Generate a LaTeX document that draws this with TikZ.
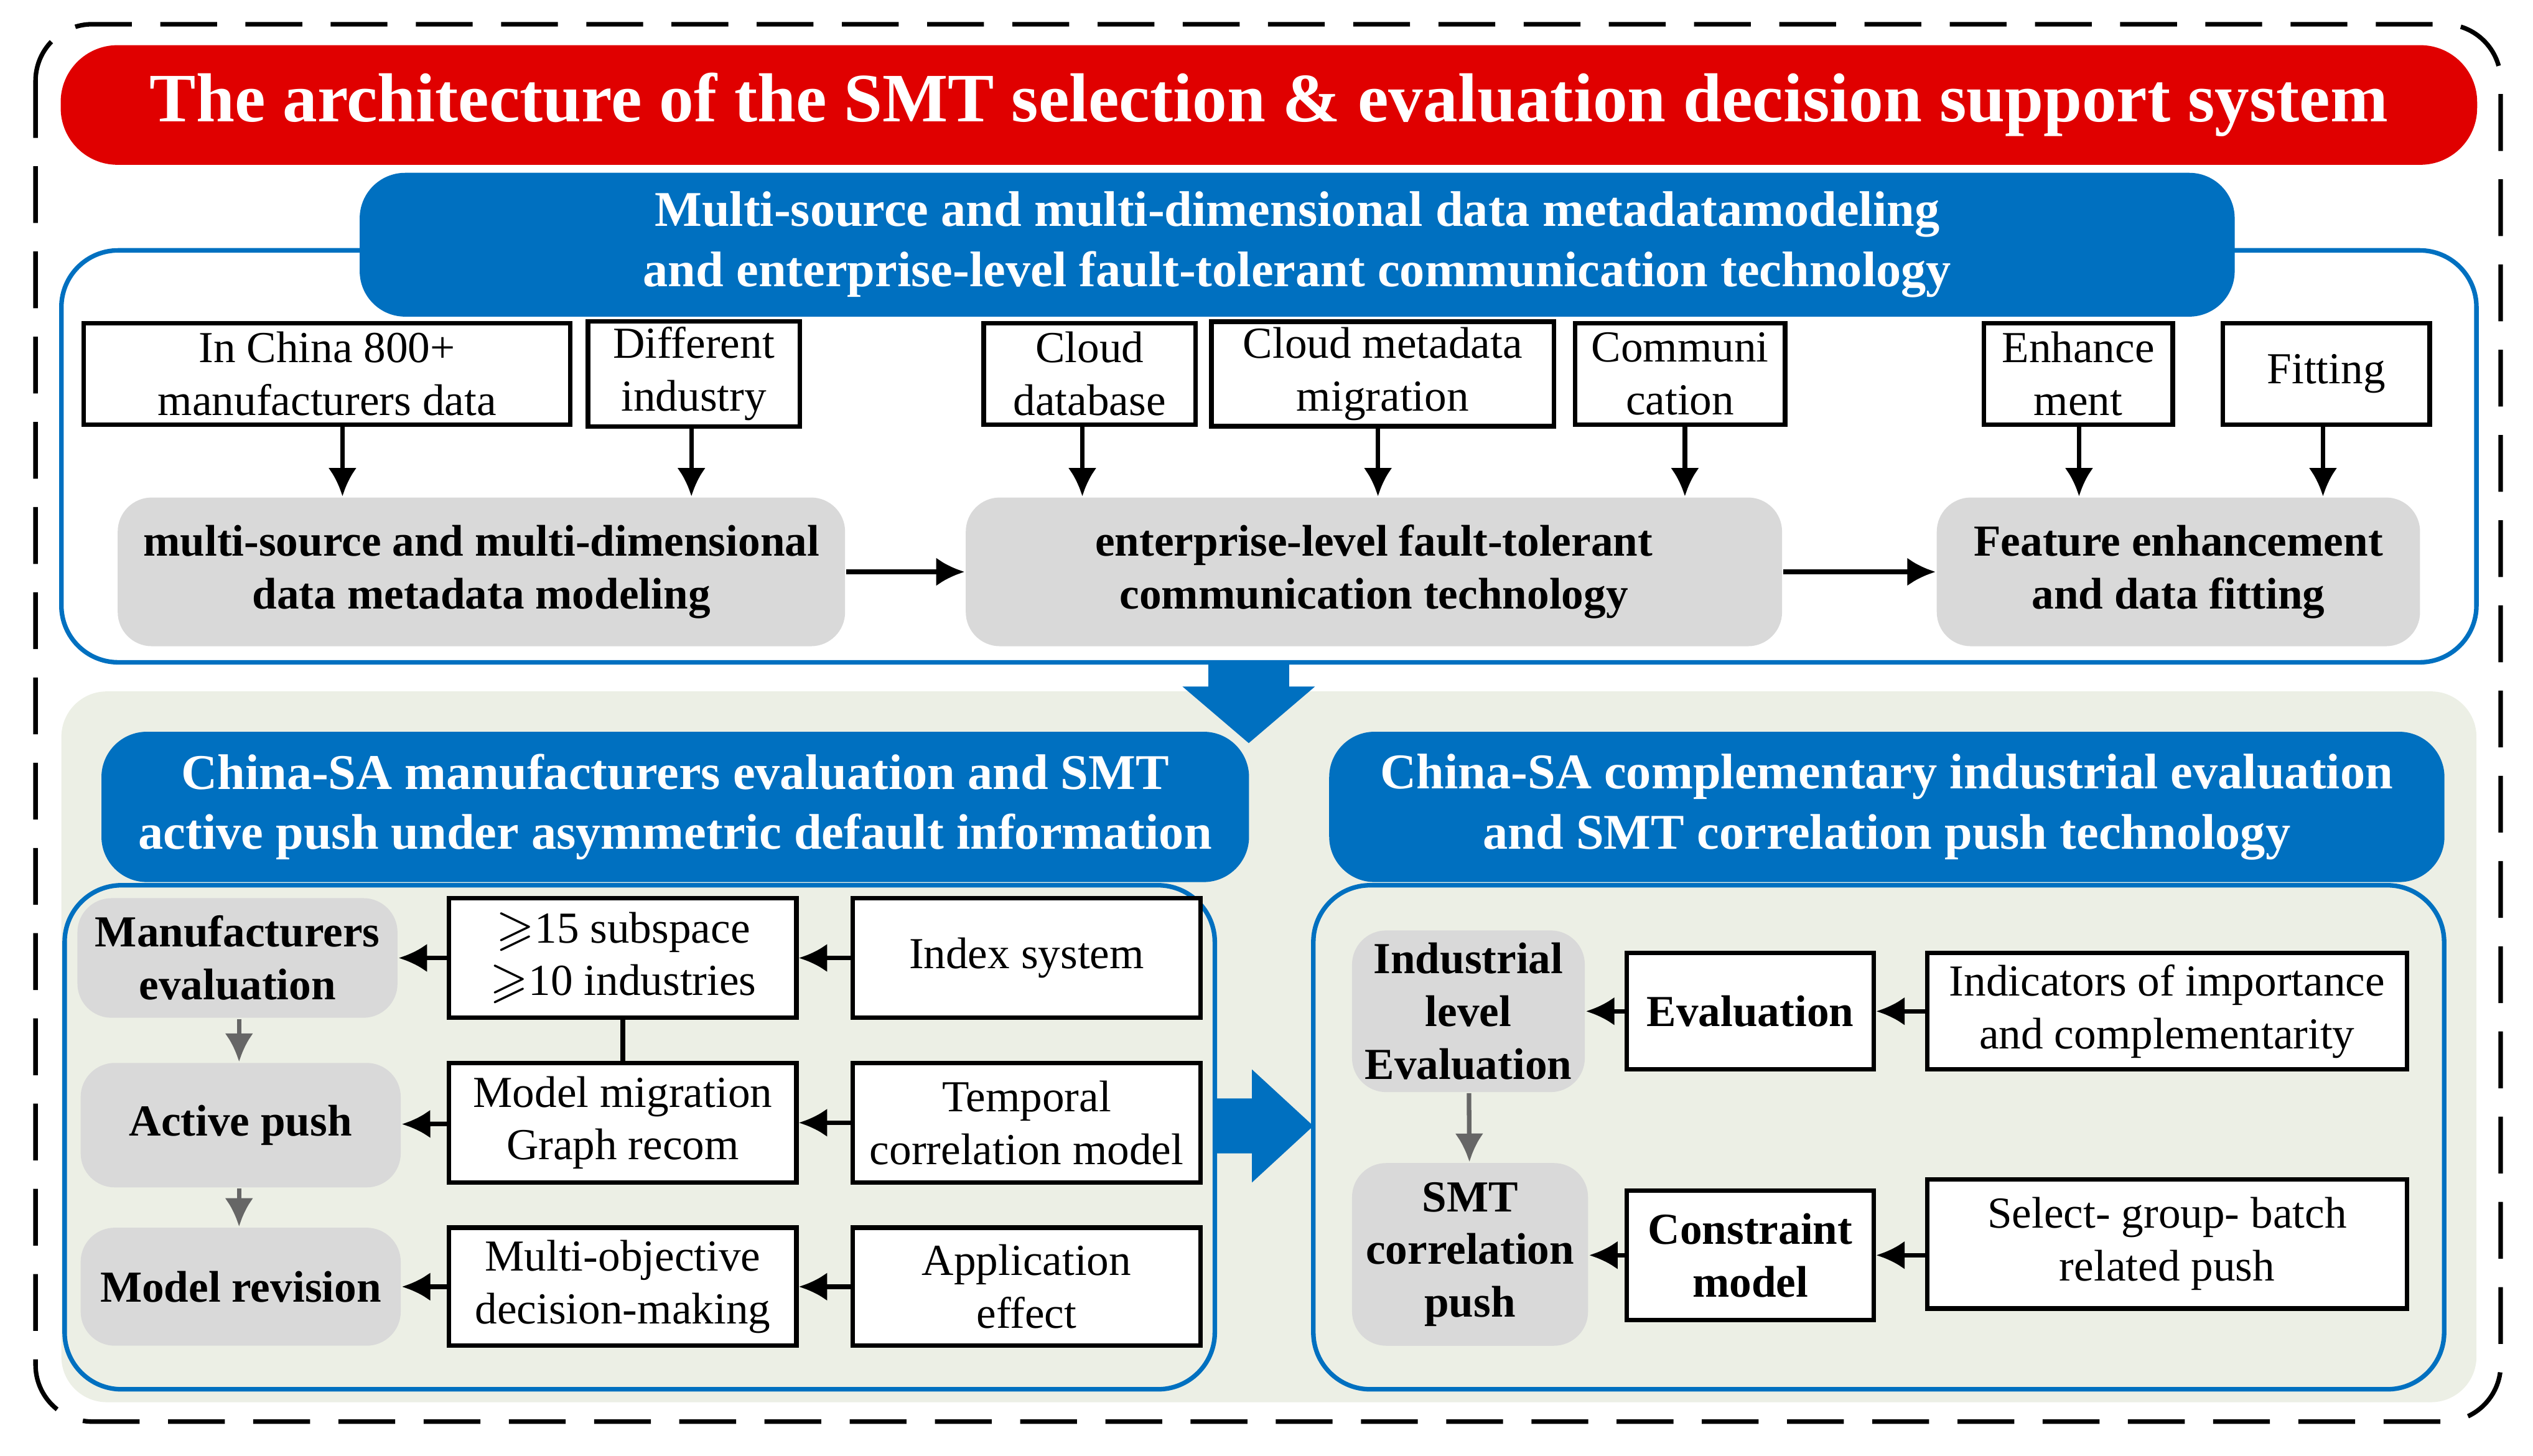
\documentclass[tikz,border=0pt]{standalone}
\usepackage{amssymb}
\usepackage{fontspec}
\setmainfont{Liberation Serif}
\usetikzlibrary{arrows.meta, calc, positioning}

\definecolor{titlered}{RGB}{224,0,0}
\definecolor{hdrblue}{RGB}{0,112,192}
\definecolor{panelbg}{RGB}{236,239,229}
\definecolor{graybox}{RGB}{217,217,217}

\tikzset{
	wbox/.style={draw, thick, fill=white, align=center, inner sep=1pt, font=\fontsize{7.8}{9.3}\selectfont},
	gbox/.style={fill=graybox, rounded corners=6pt, align=center, inner sep=1pt, font=\fontsize{7.8}{9.3}\selectfont\bfseries},
	hdr/.style={fill=hdrblue, rounded corners=8pt, text=white, align=center, font=\fontsize{8.8}{10.6}\selectfont\bfseries},
	arr/.style={thick, -{Latex[length=5pt,width=5pt]}},
	garr/.style={thick, draw=gray!80!black, -{Latex[length=5pt,width=5pt]}}
}

\begin{document}
\begin{tikzpicture}[x=0.01cm, y=-0.01cm]
	\useasboundingbox (0,0) rectangle (1568,901);
	
	% Frame and title
	\draw[thick, dash pattern=on 10pt off 5pt, rounded corners=10pt] (22,15) rectangle (1548,880);
	\node[fill=titlered, rounded corners=10pt, text=white, minimum width=14.95cm, minimum height=0.74cm,
		font=\fontsize{12.2}{14}\selectfont\bfseries] (title) at (785.5,65) {The architecture of the SMT selection \& evaluation decision support system};
	
	% Upper part
	\draw[thick, draw=hdrblue, rounded corners=10pt] (38,155) rectangle (1533,410);
	\node[hdr, minimum width=11.6cm, minimum height=0.73cm] (hdrTop) at (803,151.5)
		{Multi-source and multi-dimensional data metadatamodeling\\and enterprise-level fault-tolerant communication technology};
	
	\node[wbox, minimum width=3.01cm, minimum height=0.63cm] (china) at (202.5,231.5) {In China 800+\\manufacturers data};
	\node[wbox, minimum width=1.31cm, minimum height=0.63cm] (indus) at (429.5,231.5) {Different\\industry};
	\node[wbox, minimum width=1.31cm, minimum height=0.63cm] (cloud) at (674.5,231.5) {Cloud\\database};
	\node[wbox, minimum width=2.12cm, minimum height=0.63cm] (migr) at (856,231.5) {Cloud metadata\\migration};
	\node[wbox, minimum width=1.30cm, minimum height=0.63cm] (comm) at (1040,231.5) {Communi\\cation};
	\node[wbox, minimum width=1.17cm, minimum height=0.63cm] (enh) at (1286.5,231.5) {Enhance\\ment};
	\node[wbox, minimum width=1.28cm, minimum height=0.63cm] (fit) at (1440,231.5) {Fitting};
	
	\node[gbox, minimum width=4.50cm, minimum height=0.92cm] (meta) at (298,354) {multi-source and multi-dimensional\\data metadata modeling};
	\node[gbox, minimum width=5.05cm, minimum height=0.92cm] (ftc) at (850.5,354) {enterprise-level fault-tolerant\\communication technology};
	\node[gbox, minimum width=2.99cm, minimum height=0.92cm] (feat) at (1348.5,354) {Feature enhancement\\and data fitting};
	
	\foreach \s/\t/\x in {china/meta/212, indus/meta/428, cloud/ftc/670, migr/ftc/853, comm/ftc/1043, enh/feat/1287, fit/feat/1438}
		\draw[arr] (\s.south -| \x,0) -- (\t.north -| \x,0);
	\draw[arr] (meta) -- (ftc);
	\draw[arr] (ftc) -- (feat);
	
	% Lower panel
	\fill[panelbg, rounded corners=8pt] (38,428) rectangle (1533,868);
	\fill[hdrblue] (748,410) -- (798,410) -- (798,425) -- (814,425) -- (773,460) -- (732,425) -- (748,425) -- cycle;
	
	\draw[thick, draw=hdrblue, rounded corners=10pt] (40,548) rectangle (752,860);
	\draw[thick, draw=hdrblue, rounded corners=10pt] (813,548) rectangle (1513,860);
	\node[hdr, minimum width=7.10cm, minimum height=0.93cm] (hdrL) at (418,499.5)
		{China-SA manufacturers evaluation and SMT\\active push under asymmetric default information};
	\node[hdr, minimum width=6.90cm, minimum height=0.93cm] (hdrR) at (1168,499.5)
		{China-SA complementary industrial evaluation\\and SMT correlation push technology};
	\fill[hdrblue] (752,680) -- (775,680) -- (775,662) -- (813,697) -- (775,732) -- (775,714) -- (752,714) -- cycle;
	
	% Left panel
	\node[gbox, minimum width=1.98cm, minimum height=0.74cm] (manu) at (147,593) {Manufacturers\\evaluation};
	\node[gbox, minimum width=1.98cm, minimum height=0.77cm] (push) at (149,696.5) {Active push};
	\node[gbox, minimum width=1.98cm, minimum height=0.73cm] (rev) at (149,796.5) {Model revision};
	\node[wbox, minimum width=2.15cm, minimum height=0.74cm] (sub) at (385.5,593) {$\geqslant$15 subspace\\$\geqslant$10 industries};
	\node[wbox, minimum width=2.15cm, minimum height=0.74cm] (graph) at (385.5,695) {Model migration\\Graph recom};
	\node[wbox, minimum width=2.15cm, minimum height=0.73cm] (multi) at (385.5,796.5) {Multi-objective\\decision-making};
	\node[wbox, minimum width=2.15cm, minimum height=0.74cm] (index) at (635.5,593) {Index system};
	\node[wbox, minimum width=2.15cm, minimum height=0.74cm] (temp) at (635.5,695) {Temporal\\correlation model};
	\node[wbox, minimum width=2.15cm, minimum height=0.73cm] (app) at (635.5,796.5) {Application\\effect};
	
	\draw[arr] (index) -- (sub);
	\draw[arr] (sub) -- (manu);
	\draw[arr] (temp) -- (graph);
	\draw[arr] (graph) -- (push);
	\draw[arr] (app) -- (multi);
	\draw[arr] (multi) -- (rev);
	\draw[thick] (sub) -- (graph);
	\draw[garr] (manu.south -| 148,0) -- (push.north -| 148,0);
	\draw[garr] (push.south -| 148,0) -- (rev.north -| 148,0);
	
	% Right panel
	\node[gbox, minimum width=1.44cm, minimum height=1.00cm] (ind) at (909,626) {Industrial\\level\\Evaluation};
	\node[gbox, minimum width=1.46cm, minimum height=1.13cm] (smt) at (910,776.5) {SMT\\correlation\\push};
	\node[wbox, font=\fontsize{7.8}{9.3}\selectfont\bfseries, minimum width=1.53cm, minimum height=0.72cm] (eval) at (1083.5,626) {Evaluation};
	\node[wbox, font=\fontsize{7.8}{9.3}\selectfont\bfseries, minimum width=1.53cm, minimum height=0.80cm] (cons) at (1083.5,777) {Constraint\\model};
	\node[wbox, minimum width=2.97cm, minimum height=0.72cm] (indic) at (1341.5,626) {Indicators of importance\\and complementarity};
	\node[wbox, minimum width=2.97cm, minimum height=0.80cm] (sel) at (1341.5,770) {Select- group- batch\\related push};
	
	\draw[arr] (indic) -- (eval);
	\draw[arr] (eval) -- (ind);
	\draw[arr] (sel.west |- cons) -- (cons);
	\draw[arr] (cons) -- (smt.east |- cons);
	\draw[garr] (ind) -- (smt);
\end{tikzpicture}
\end{document}
